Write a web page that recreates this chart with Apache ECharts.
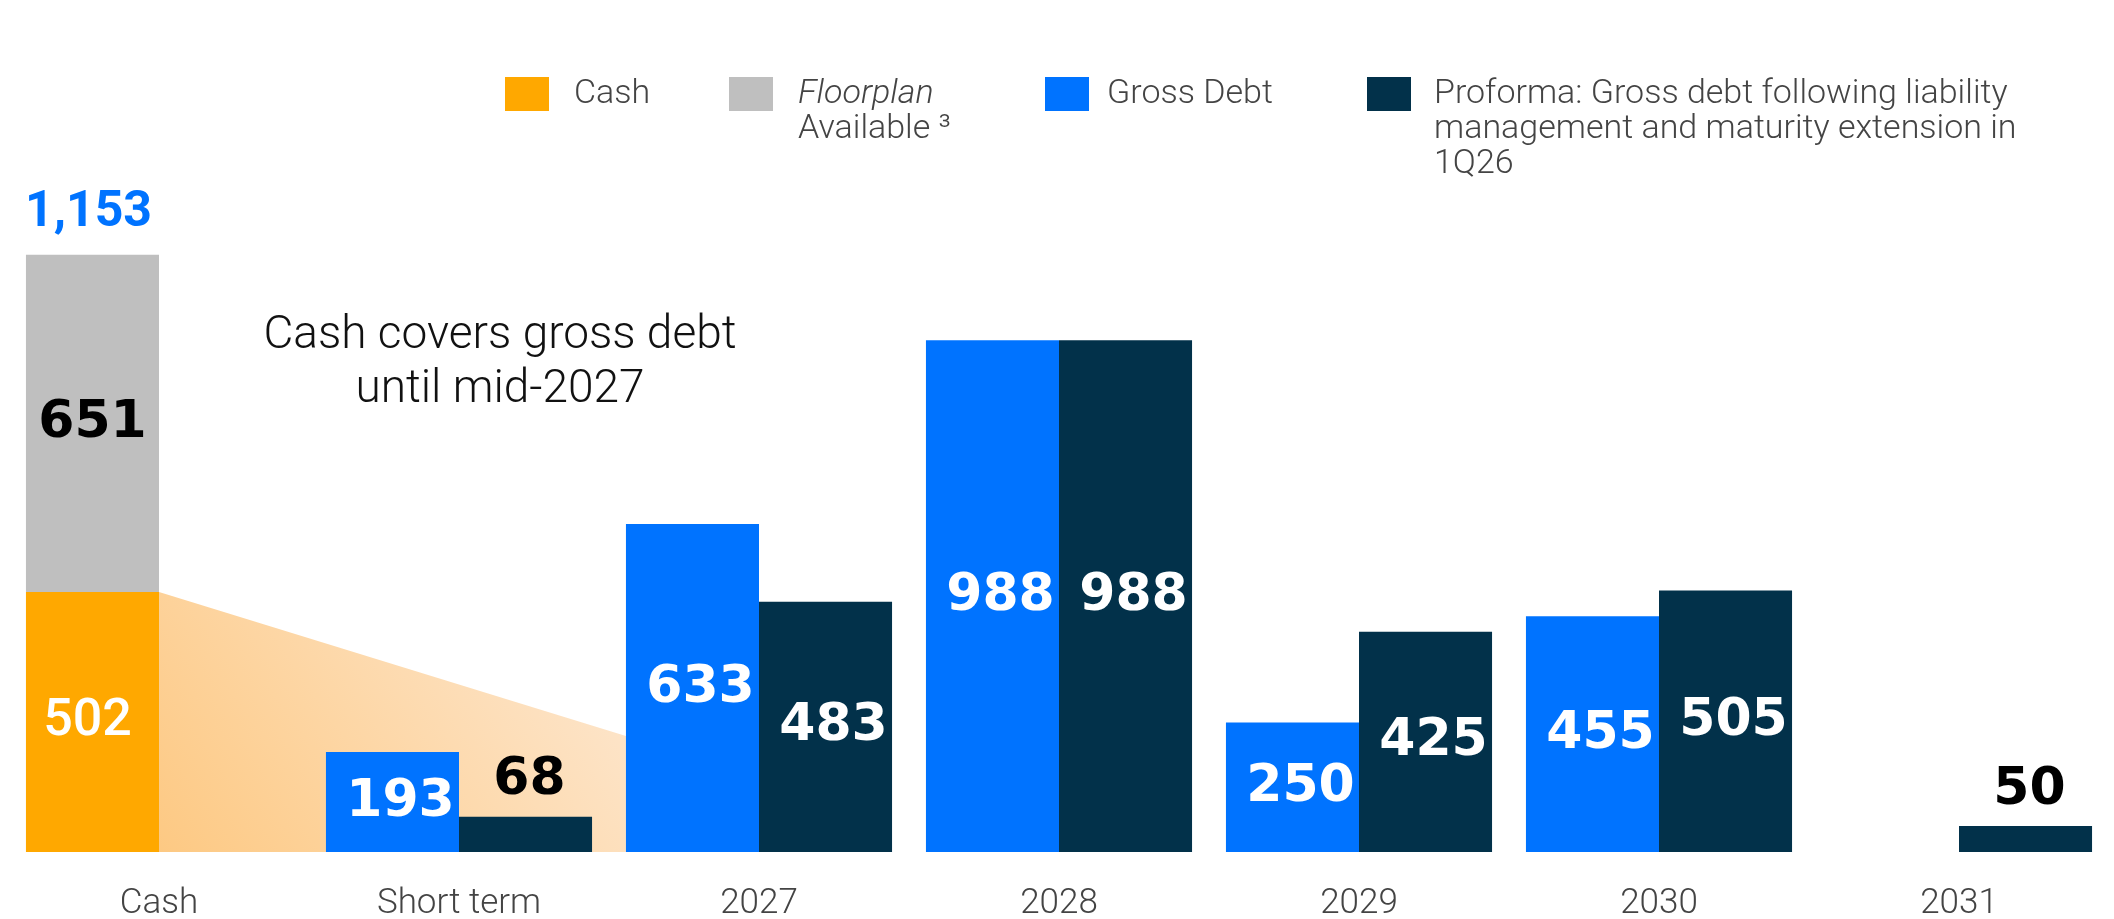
<!DOCTYPE html>
<html>
<head>
<meta charset="utf-8">
<title>Liquidity and debt maturity profile</title>
<script src="https://cdn.jsdelivr.net/npm/echarts@6/dist/echarts.min.js"></script>
<style>
  html, body { margin: 0; padding: 0; background: #ffffff; }
  #chart { width: 2114px; height: 919px; }
</style>
</head>
<body>
<div id="chart"></div>
<script>
// ---- data ----
const categories = ['Cash', 'Short term', '2027', '2028', '2029', '2030', '2031'];
const cash       = [502, null, null, null, null, null, null];
const floorplan  = [651, null, null, null, null, null, null];
const grossDebt  = [null, 193, 633, 988, 250, 455, null];
const proforma   = [null, 68, 483, 988, 425, 505, 50];
// level (in the same units) where the cash-coverage band meets the 2027 bar
const coverEndValue = 224;

const seriesNames = {
  cash: 'Cash',
  floorplan: 'Floorplan Available',
  gross: 'Gross Debt',
  proforma: 'Proforma'
};

// ---- styles ----
const COLORS = {
  cash: '#FFA800',
  floorplan: '#BFBFBF',
  gross: '#0073FF',
  proforma: '#02314A'
};
const CATEGORY_GAP = 0.113;
const VALUE_FONT = { fontFamily: 'DejaVu Sans', fontWeight: 'bold', fontSize: 52 };
const TEXT_BASE = { fontFamily: 'Roboto', fontWeight: 300, fontSize: 34, lineHeight: 35, color: '#444444' };

const totals = cash.map((c, i) => (c != null && floorplan[i] != null) ? c + floorplan[i] : null);

function insideLabel(color, offset) {
  return Object.assign({ show: true, position: 'inside', color: color, offset: offset || [8, 0] }, VALUE_FONT);
}

// small bars carry their number above the bar
function debtItems(values) {
  return values.map(v => {
    if (v == null) return null;
    if (v < 100) {
      return {
        value: v,
        label: Object.assign({ show: true, position: 'top', distance: 10, color: '#000000', offset: [4, 0] }, VALUE_FONT)
      };
    }
    return v;
  });
}

const chart = echarts.init(document.getElementById('chart'), null, { renderer: 'canvas' });

const legendCommon = {
  padding: 0,
  itemWidth: 44,
  itemHeight: 34,
  icon: 'rect',
  selectedMode: false,
  orient: 'horizontal'
};

// multi-line legend entries: top padding keeps the first line level with the swatch
const LINE = TEXT_BASE.lineHeight;

const option = {
  animation: false,
  backgroundColor: '#ffffff',
  grid: { left: 9, right: 5, top: 75, bottom: 67, containLabel: false, outerBoundsMode: 'none' },
  legend: [
    Object.assign({}, legendCommon, {
      data: [seriesNames.cash], left: 505, top: 77 - 0.5,
      textStyle: Object.assign({}, TEXT_BASE, { padding: [0, 0, 0, 20] })
    }),
    Object.assign({}, legendCommon, {
      data: [seriesNames.floorplan], left: 729, top: 77 - 1.5 * LINE + 17,
      formatter: () => '{it|Floorplan}\n{n|Available ³}',
      textStyle: Object.assign({}, TEXT_BASE, {
        padding: [LINE, 0, 0, 20],
        rich: {
          it: Object.assign({}, TEXT_BASE, { fontStyle: 'italic' }),
          n: Object.assign({}, TEXT_BASE)
        }
      })
    }),
    Object.assign({}, legendCommon, {
      data: [seriesNames.gross], left: 1045, top: 77 - 0.5,
      textStyle: Object.assign({}, TEXT_BASE, { padding: [0, 0, 0, 13] })
    }),
    Object.assign({}, legendCommon, {
      data: [seriesNames.proforma], left: 1367, top: 77 - 2.5 * LINE + 17,
      formatter: () => '{n|Proforma: Gross debt following liability}\n{n|management and maturity extension in}\n{n|1Q26}',
      textStyle: Object.assign({}, TEXT_BASE, {
        padding: [2 * LINE, 0, 0, 18],
        rich: { n: Object.assign({}, TEXT_BASE) }
      })
    })
  ],
  xAxis: {
    type: 'category',
    data: categories,
    axisLine: { show: false },
    axisTick: { show: false },
    axisLabel: { margin: 35, fontFamily: 'Roboto', fontWeight: 300, fontSize: 35, color: '#444444' }
  },
  yAxis: {
    type: 'value',
    min: 0,
    max: 1500,
    show: false,
    splitLine: { show: false }
  },
  graphic: [
    {
      type: 'text',
      x: 500,
      y: 363,
      style: {
        text: 'Cash covers gross debt\nuntil mid-2027',
        align: 'center',
        verticalAlign: 'middle',
        fontFamily: 'Roboto',
        fontWeight: 300,
        fontSize: 46,
        lineHeight: 54,
        fill: '#111111'
      }
    }
  ],
  series: [
    {
      // shaded band: cash on hand running down against maturing debt
      type: 'custom',
      name: 'coverage',
      z: 1,
      silent: true,
      data: [[0, cash[0]]],
      renderItem: function (params, api) {
        const start = api.coord([0, cash[0]]);
        const end = api.coord([2, coverEndValue]);
        const base = api.coord([0, 0])[1];
        const band = api.size([1, 0])[0];
        const barW = band * (1 - CATEGORY_GAP) / 2;
        const xs = start[0];
        const xe = end[0] - barW;
        return {
          type: 'polygon',
          shape: { points: [[xs, start[1]], [xe, end[1]], [xe, base], [xs, base]] },
          style: {
            fill: new echarts.graphic.LinearGradient(0, 1, 0.8, 0, [
              { offset: 0, color: '#FDC983' },
              { offset: 1, color: '#FDE4C8' }
            ])
          }
        };
      }
    },
    {
      name: seriesNames.cash,
      type: 'bar',
      stack: 'a',
      z: 2,
      barGap: '0%',
      barCategoryGap: (CATEGORY_GAP * 100) + '%',
      itemStyle: { color: COLORS.cash },
      label: {
        show: true, position: 'inside', color: '#ffffff', offset: [-5, 0],
        fontFamily: 'Roboto', fontWeight: 500, fontSize: 52
      },
      data: cash
    },
    {
      name: seriesNames.floorplan,
      type: 'bar',
      stack: 'a',
      z: 2,
      itemStyle: { color: COLORS.floorplan },
      label: insideLabel('#000000', [0, 0]),
      data: floorplan
    },
    {
      // zero-height cap that carries the stack total
      name: 'Total',
      type: 'bar',
      stack: 'a',
      z: 2,
      itemStyle: { color: 'transparent' },
      label: {
        show: true, position: 'top', distance: 16, offset: [-4, 0],
        color: '#0073FF', fontFamily: 'Roboto', fontWeight: 'bold', fontSize: 50,
        formatter: p => totals[p.dataIndex].toLocaleString('en-US')
      },
      data: totals.map(t => (t == null ? null : 0))
    },
    {
      name: seriesNames.gross,
      type: 'bar',
      stack: 'a',
      z: 2,
      itemStyle: { color: COLORS.gross },
      label: insideLabel('#ffffff'),
      data: debtItems(grossDebt)
    },
    {
      name: seriesNames.proforma,
      type: 'bar',
      z: 2,
      itemStyle: { color: COLORS.proforma },
      label: insideLabel('#ffffff'),
      data: debtItems(proforma)
    }
  ]
};

chart.setOption(option);
</script>
</body>
</html>
